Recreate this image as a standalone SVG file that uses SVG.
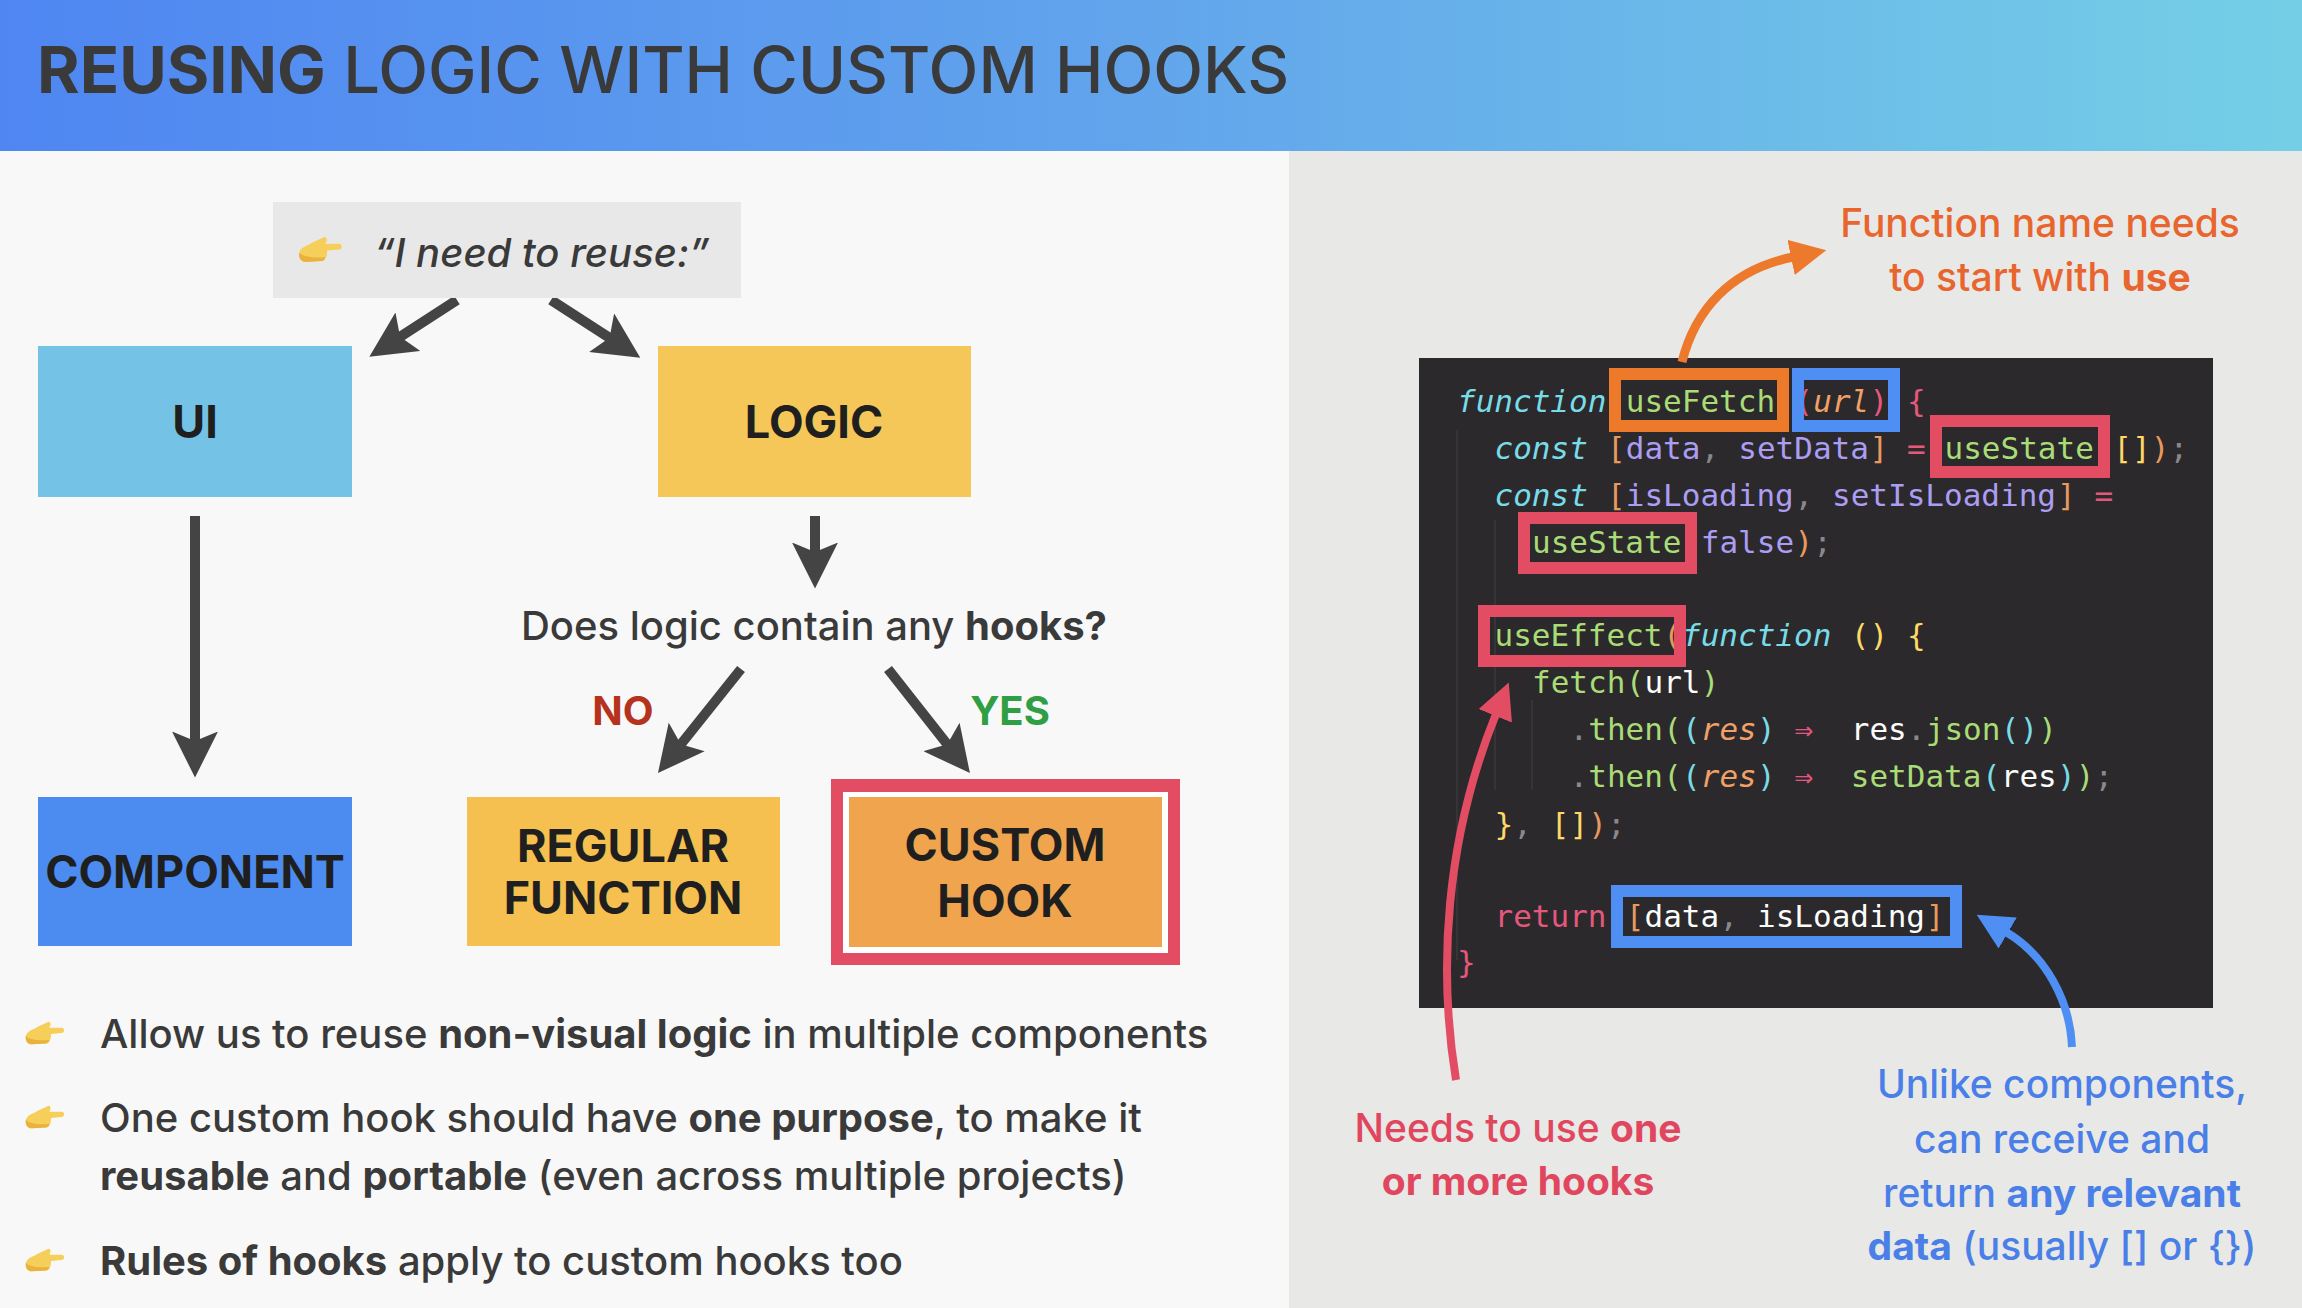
<svg xmlns="http://www.w3.org/2000/svg" width="2302" height="1308" viewBox="0 0 2302 1308">
<style>
text{font-family:"Inter","Noto Sans","Liberation Sans",sans-serif;fill:#3a3a3a;font-weight:500}
.b{font-weight:700}
.node{font-weight:700;fill:#1f1f1f;font-size:45px;text-anchor:middle}
.body{font-size:40px}
.ann{font-size:39px;text-anchor:middle}
.arrow{fill:none;stroke-width:10}
.code text{font-family:"DejaVu Sans Mono","Liberation Mono",monospace;font-size:31px;font-weight:400;fill:#fcfcfa}
.i{font-style:italic}
.cy{fill:#78dce8;font-style:italic}
.gr{fill:#a9dc76}
.or{fill:#e8995e}
.ou{fill:#f0a068;font-style:italic}
.pu{fill:#ab9df2}
.pk{fill:#e4587c}
.ye{fill:#ffd866}
.ca{fill:#78dce8}
.gy{fill:#8a888c}
.wh{fill:#fcfcfa}
.hl{fill:none;stroke-width:12}
</style>
<defs>
<linearGradient id="hdr" x1="0" x2="1" y1="0" y2="0"><stop offset="0" stop-color="#4f86f2"/><stop offset="0.5" stop-color="#62a5ec"/><stop offset="1" stop-color="#74cfe6"/></linearGradient>
<marker id="dk" markerUnits="userSpaceOnUse" markerWidth="46" markerHeight="46" viewBox="0 0 44 44" refX="11" refY="22" orient="auto"><path d="M0 0L44 22L0 44L9 22Z" fill="#444"/></marker>
<marker id="mo" markerUnits="userSpaceOnUse" markerWidth="36" markerHeight="36" viewBox="0 0 36 36" refX="2" refY="18" orient="auto"><path d="M0 0L36 18L0 36Z" fill="#ed7a2c"/></marker>
<marker id="mr" markerUnits="userSpaceOnUse" markerWidth="36" markerHeight="36" viewBox="0 0 36 36" refX="2" refY="18" orient="auto"><path d="M0 0L36 18L0 36Z" fill="#e34d64"/></marker>
<marker id="mb" markerUnits="userSpaceOnUse" markerWidth="36" markerHeight="36" viewBox="0 0 36 36" refX="2" refY="18" orient="auto"><path d="M0 0L36 18L0 36Z" fill="#4f8ef2"/></marker>
<symbol id="hand" viewBox="0 0 46 27" overflow="visible"><path d="M1 16C3 10 10 9 14 6L27 0C30 0 30 4 28 7L42 7C46 7 46 13 42 13L30 14C30 20 28 25 24 25L8 26C3 26 0 22 1 16Z" fill="#f6cf5a"/><path d="M8 26C3 26 0 22 1 16C4 20 14 22 28 21C27 24 26 25 24 25Z" fill="#e8b23c"/></symbol>
</defs>

<rect id="left-panel" x="0" y="151" width="1289" height="1157" fill="#f8f8f8"/>
<rect id="right-panel" x="1289" y="151" width="1013" height="1157" fill="#e8e8e6"/>
<g id="header">
<rect x="0" y="0" width="2302" height="151" fill="url(#hdr)"/>
<text x="37" y="93" font-size="65" fill="#333"><tspan class="b">REUSING</tspan> LOGIC WITH CUSTOM HOOKS</text>
</g>

<g id="connectors">
<path class="arrow" stroke="#444" marker-end="url(#dk)" d="M457 300L398.3 338"/>
<path class="arrow" stroke="#444" marker-end="url(#dk)" d="M551 300L611.3 339"/>
<path class="arrow" stroke="#444" marker-end="url(#dk)" d="M195 516L195 743"/>
<path class="arrow" stroke="#444" marker-end="url(#dk)" d="M815 516L815 554"/>
<path class="arrow" stroke="#444" marker-end="url(#dk)" d="M741 669L679.5 746"/>
<path class="arrow" stroke="#444" marker-end="url(#dk)" d="M888 669L948.6 746"/>
</g>

<g id="quote">
<rect x="273" y="202" width="468" height="96" fill="#e8e8e8"/>
<use href="#hand" x="298" y="237" width="45" height="26"/>
<text x="374" y="267" font-size="40" font-style="italic">“I need to reuse:”</text>
</g>
<g id="ui"><rect x="38" y="346" width="314" height="151" fill="#74c3e6"/><text class="node" x="195" y="438">UI</text></g>
<g id="logic"><rect x="658" y="346" width="313" height="151" fill="#f5c759"/><text class="node" x="814" y="438">LOGIC</text></g>
<g id="component"><rect x="38" y="797" width="314" height="149" fill="#4c8cf0"/><text class="node" x="195" y="888">COMPONENT</text></g>
<g id="question"><text x="814" y="640" font-size="40" text-anchor="middle">Does logic contain any <tspan class="b">hooks?</tspan></text></g>
<g id="no"><text class="b" x="623" y="725" font-size="40" text-anchor="middle" style="fill:#b5321c">NO</text></g>
<g id="yes"><text class="b" x="1010" y="725" font-size="40" text-anchor="middle" style="fill:#2f9e44">YES</text></g>
<g id="regular-function"><rect x="467" y="797" width="313" height="149" fill="#f5c04f"/><text class="node" x="623" y="862" font-size="43">REGULAR</text><text class="node" x="623" y="914" font-size="43">FUNCTION</text></g>
<g id="custom-hook">
<rect x="831" y="779" width="349" height="186" fill="#e34d64"/>
<rect x="843" y="792" width="325" height="161" fill="#fff"/>
<rect x="849" y="797" width="313" height="150" fill="#f0a44e"/>
<text class="node" x="1005" y="861">CUSTOM</text><text class="node" x="1005" y="917">HOOK</text>
</g>

<g id="bullets">
<use href="#hand" x="25" y="1020" width="40" height="27"/>
<text class="body" x="100" y="1048">Allow us to reuse <tspan class="b">non-visual logic</tspan> in multiple components</text>
<use href="#hand" x="25" y="1104" width="40" height="27"/>
<text class="body" x="100" y="1132">One custom hook should have <tspan class="b">one purpose</tspan>, to make it</text>
<text class="body" x="100" y="1190"><tspan class="b">reusable</tspan> and <tspan class="b">portable</tspan> (even across multiple projects)</text>
<use href="#hand" x="25" y="1247" width="40" height="27"/>
<text class="body" x="100" y="1275"><tspan class="b">Rules of hooks</tspan> apply to custom hooks too</text>
</g>

<g id="code-panel" class="code">
<rect x="1419" y="358" width="794" height="650" fill="#2b292c"/>
<path d="M1457 430V960M1495 520V790M1532 700V790" stroke="#3a383b" stroke-width="1.5" fill="none"/>
<text y="412"><tspan x="1457" class="cy">function</tspan><tspan x="1625.75" class="gr">useFetch</tspan><tspan x="1794.5" class="pk">(</tspan><tspan x="1813.25" class="ou">url</tspan><tspan x="1869.5" class="pk">)</tspan><tspan x="1907" class="pk">{</tspan></text>
<text y="459"><tspan x="1494.5" class="cy">const</tspan><tspan x="1607" class="or">[</tspan><tspan x="1625.75" class="pu">data</tspan><tspan x="1700.75" class="gy">,</tspan><tspan x="1738.25" class="pu">setData</tspan><tspan x="1869.5" class="or">]</tspan><tspan x="1907" class="pk">=</tspan><tspan x="1944.5" class="gr">useState</tspan><tspan x="2113.25" class="ye">[</tspan><tspan x="2132" class="ye">]</tspan><tspan x="2150.75" class="or">)</tspan><tspan x="2169.5" class="gy">;</tspan></text>
<text y="506"><tspan x="1494.5" class="cy">const</tspan><tspan x="1607" class="or">[</tspan><tspan x="1625.75" class="pu">isLoading</tspan><tspan x="1794.5" class="gy">,</tspan><tspan x="1832" class="pu">setIsLoading</tspan><tspan x="2057" class="or">]</tspan><tspan x="2094.5" class="pk">=</tspan></text>
<text y="553"><tspan x="1532" class="gr">useState</tspan><tspan x="1700.75" class="pu">false</tspan><tspan x="1794.5" class="or">)</tspan><tspan x="1813.25" class="gy">;</tspan></text>
<text y="646"><tspan x="1494.5" class="gr">useEffect</tspan><tspan x="1663.25" class="or">(</tspan><tspan x="1682" class="cy">function</tspan><tspan x="1850.75" class="ye">(</tspan><tspan x="1869.5" class="ye">)</tspan><tspan x="1907" class="ye">{</tspan></text>
<text y="693"><tspan x="1532" class="gr">fetch</tspan><tspan x="1625.75" class="gr">(</tspan><tspan x="1644.5" class="wh">url</tspan><tspan x="1700.75" class="gr">)</tspan></text>
<text y="740"><tspan x="1569.5" class="gy">.</tspan><tspan x="1588.25" class="gr">then</tspan><tspan x="1663.25" class="gr">(</tspan><tspan x="1682" class="ca">(</tspan><tspan x="1700.75" class="ou">res</tspan><tspan x="1757" class="ca">)</tspan><tspan x="1794.5" class="pk">⇒</tspan><tspan x="1850.75" class="wh">res</tspan><tspan x="1907" class="gy">.</tspan><tspan x="1925.75" class="gr">json</tspan><tspan x="2000.75" class="ca">(</tspan><tspan x="2019.5" class="ca">)</tspan><tspan x="2038.25" class="gr">)</tspan></text>
<text y="787"><tspan x="1569.5" class="gy">.</tspan><tspan x="1588.25" class="gr">then</tspan><tspan x="1663.25" class="gr">(</tspan><tspan x="1682" class="ca">(</tspan><tspan x="1700.75" class="ou">res</tspan><tspan x="1757" class="ca">)</tspan><tspan x="1794.5" class="pk">⇒</tspan><tspan x="1850.75" class="gr">setData</tspan><tspan x="1982" class="ca">(</tspan><tspan x="2000.75" class="wh">res</tspan><tspan x="2057" class="ca">)</tspan><tspan x="2075.75" class="gr">)</tspan><tspan x="2094.5" class="gy">;</tspan></text>
<text y="835"><tspan x="1494.5" class="ye">}</tspan><tspan x="1513.25" class="gy">,</tspan><tspan x="1550.75" class="ye">[</tspan><tspan x="1569.5" class="ye">]</tspan><tspan x="1588.25" class="or">)</tspan><tspan x="1607" class="gy">;</tspan></text>
<text y="927"><tspan x="1494.5" class="pk">return</tspan><tspan x="1625.75" class="or">[</tspan><tspan x="1644.5" class="wh">data</tspan><tspan x="1719.5" class="gy">,</tspan><tspan x="1757" class="wh">isLoading</tspan><tspan x="1925.75" class="or">]</tspan></text>
<text y="973"><tspan x="1457" class="pk">}</tspan></text>
<rect class="hl" x="1615" y="374" width="168" height="52" stroke="#ec7a2a"/>
<rect class="hl" x="1798" y="374" width="96" height="52" stroke="#4f8ef2"/>
<rect class="hl" x="1936" y="421" width="168" height="51" stroke="#e34d64"/>
<rect class="hl" x="1524" y="518" width="167" height="50" stroke="#e34d64"/>
<rect class="hl" x="1484" y="611" width="196" height="50" stroke="#e34d64"/>
<rect class="hl" x="1617" y="891" width="339" height="51" stroke="#4f8ef2"/>
</g>

<g id="annotation-connectors">
<path class="arrow" style="stroke-width:9" stroke="#ed7a2c" marker-end="url(#mo)" d="M1682 362C1695 310 1730 270 1793 257"/>
<path class="arrow" style="stroke-width:8" stroke="#e34d64" marker-end="url(#mr)" d="M1456 1080C1438 970 1445 840 1496 714"/>
<path class="arrow" style="stroke-width:8" stroke="#4f8ef2" marker-end="url(#mb)" d="M2072 1047C2070 1000 2045 955 2006 932"/>
</g>

<g id="note-use"><text class="ann" x="2040" y="237" style="fill:#e8652e">Function name needs</text><text class="ann" x="2040" y="291" style="fill:#e8652e">to start with <tspan class="b">use</tspan></text></g>
<g id="note-hooks"><text class="ann" x="1518" y="1142" style="fill:#e0475f">Needs to use <tspan class="b">one</tspan></text><text class="ann b" x="1518" y="1195" style="fill:#e0475f;font-weight:700">or more hooks</text></g>
<g id="note-return">
<text class="ann" x="2062" y="1098" style="fill:#4a7fe8">Unlike components,</text>
<text class="ann" x="2062" y="1153" style="fill:#4a7fe8">can receive and</text>
<text class="ann" x="2062" y="1207" style="fill:#4a7fe8">return <tspan class="b">any relevant</tspan></text>
<text class="ann" x="2062" y="1260" style="fill:#4a7fe8"><tspan class="b">data</tspan> (usually [] or {})</text>
</g>
</svg>
